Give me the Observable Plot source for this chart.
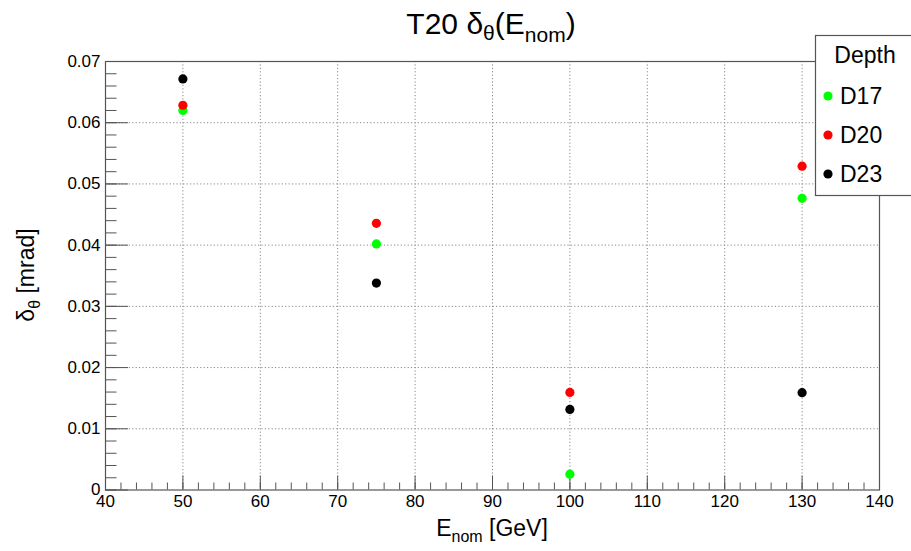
<!DOCTYPE html>
<html><head><meta charset="utf-8">
<script src="https://cdn.jsdelivr.net/npm/d3@7"></script>
<script src="https://cdn.jsdelivr.net/npm/@observablehq/plot@0.6"></script>
<style>
body{margin:0;background:#fff}
svg{font-family:"Liberation Sans",Arial,Helvetica,sans-serif}
</style>
</head><body><div id="chart"></div>
<script>
// ---- data ----
const energies = [50, 75, 100, 130];
const depths = ["D17", "D20", "D23"];
const d17 = [0.0620, 0.0402, 0.00258, 0.04765];
const d20 = [0.06285, 0.04356, 0.01594, 0.0529];
const d23 = [0.06715, 0.0338, 0.01316, 0.0159];
const depthColors = ["#00ff00", "#ff0000", "#000000"];
const xTicks = [40, 50, 60, 70, 80, 90, 100, 110, 120, 130, 140];
const yTicks = [0, 0.01, 0.02, 0.03, 0.04, 0.05, 0.06, 0.07];
const xMinor = d3.range(40, 140.001, 2);
const yMinor = d3.range(0, 0.07001, 0.002);

const series = [d17, d20, d23];
const points = [];
depths.forEach((dp, i) => energies.forEach((e, j) => points.push({depth: dp, E: e, v: series[i][j]})));

const W = 911, H = 551;
const mL = 105, mR = 32, mT = 61, mB = 61.5;
const fw = W - mL - mR, fh = H - mT - mB;

const plot = Plot.plot({
  width: W, height: H,
  marginLeft: mL, marginRight: mR, marginTop: mT, marginBottom: mB,
  x: {domain: [40, 140]},
  y: {domain: [0, 0.07]},
  color: {domain: depths, range: depthColors},
  style: {fontFamily: '"Liberation Sans",Arial,sans-serif', background: "#fff"},
  marks: [
    Plot.ruleX(xTicks.slice(1, -1), {x: d => d, stroke: "#888", strokeWidth: 1, strokeDasharray: "1.2,2.2"}),
    Plot.ruleY(yTicks.slice(1, -1), {y: d => d, stroke: "#888", strokeWidth: 1, strokeDasharray: "1.2,2.2"}),
    Plot.tickY(yMinor, {y: d => d, insetRight: fw - 11.5, stroke: "#555"}),
    Plot.tickY(yTicks, {y: d => d, insetRight: fw - 23, stroke: "#555"}),
    Plot.tickX(xMinor, {x: d => d, insetTop: fh - 7, stroke: "#555"}),
    Plot.tickX(xTicks, {x: d => d, insetTop: fh - 14, stroke: "#555"}),
    Plot.frame({stroke: "#555", strokeWidth: 1.2}),
    Plot.axisX(xTicks, {tickSize: 0, tickPadding: 4.5, fontSize: 17, label: null, fill: "#000"}),
    Plot.axisY(yTicks, {tickSize: 0, tickPadding: 5, fontSize: 17, label: null, fill: "#000",
      tickFormat: d => d === 0 ? "0" : d.toFixed(2)}),
    Plot.dot(points, {x: "E", y: "v", fill: "depth", r: 4.6, stroke: null})
  ]
});
document.getElementById("chart").appendChild(plot);

const svg = d3.select(plot);
const color = plot.scale("color");

// title
const t = svg.append("text").attr("x", 491).attr("y", 34).attr("text-anchor", "middle")
  .attr("font-size", 30).attr("fill", "#000");
t.append("tspan").text("T20 δ");
t.append("tspan").attr("font-size", 21).attr("dy", 6).text("θ");
t.append("tspan").attr("dy", -6).text("(E");
t.append("tspan").attr("font-size", 21).attr("dy", 8).text("nom");
t.append("tspan").attr("dy", -8).text(")");

// x label
const xl = svg.append("text").attr("x", 492).attr("y", 536).attr("text-anchor", "middle")
  .attr("font-size", 23).attr("fill", "#000");
xl.append("tspan").text("E");
xl.append("tspan").attr("font-size", 16).attr("dy", 6).text("nom");
xl.append("tspan").attr("dy", -6).text(" [GeV]");

// y label
const yl = svg.append("text").attr("transform", "translate(34,275) rotate(-90)").attr("text-anchor", "middle")
  .attr("font-size", 23).attr("fill", "#000");
yl.append("tspan").text("δ");
yl.append("tspan").attr("font-size", 16).attr("dy", 6).text("θ");
yl.append("tspan").attr("dy", -6).text(" [mrad]");

// legend
const lg = svg.append("g");
lg.append("rect").attr("x", 815.5).attr("y", 35.5).attr("width", 110).attr("height", 160)
  .attr("fill", "#fff").attr("stroke", "#555").attr("stroke-width", 1.2);
lg.append("text").attr("x", 865).attr("y", 63).attr("text-anchor", "middle").attr("font-size", 23).attr("fill", "#000").text("Depth");
depths.forEach((dp, i) => {
  const cy = 96 + i * 39;
  lg.append("circle").attr("cx", 828).attr("cy", cy).attr("r", 4.6).attr("fill", color.apply(dp));
  lg.append("text").attr("x", 840).attr("y", cy + 8).attr("text-anchor", "start")
    .attr("font-size", 23).attr("fill", "#000").text(dp);
});
</script>
</body></html>
